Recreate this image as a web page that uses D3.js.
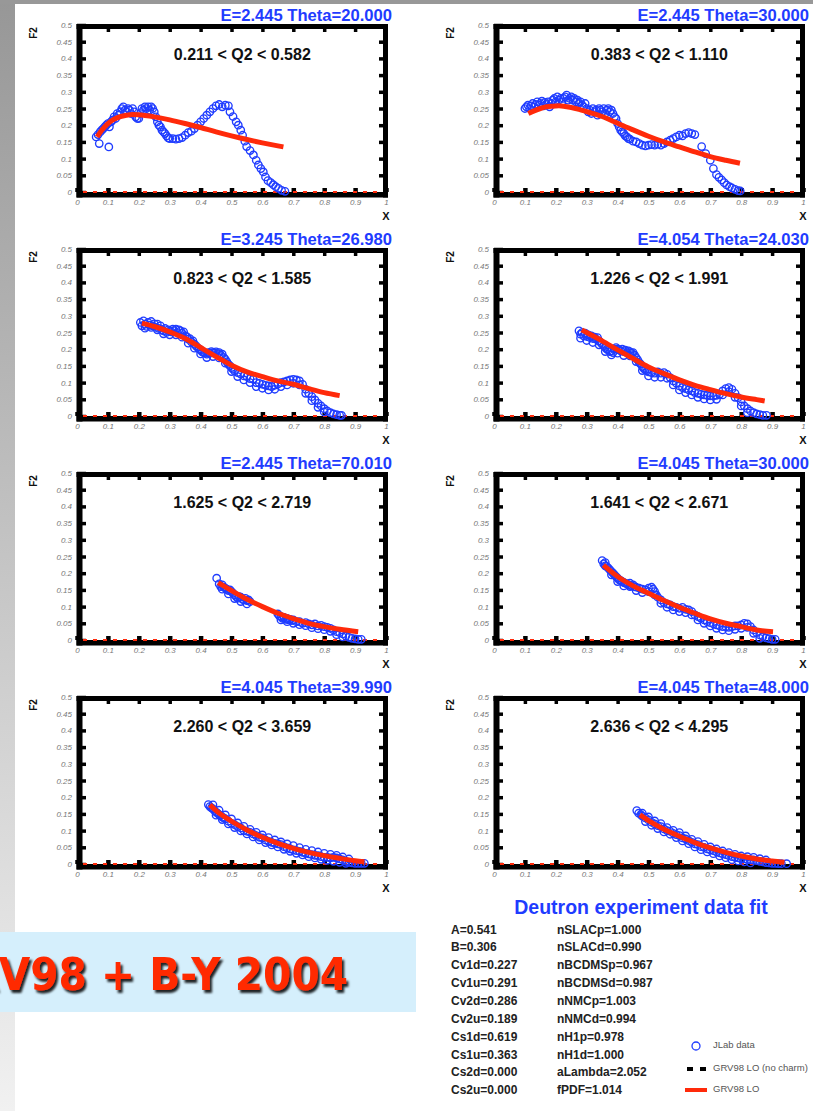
<!DOCTYPE html>
<html><head><meta charset="utf-8">
<script src="https://cdn.jsdelivr.net/npm/d3@7"></script>
<style>body{margin:0;background:#fff}svg{display:block}</style>
</head><body><svg id="c" width="813" height="1111"></svg>
<script>
// ---------- data ----------
const panelTitles = ["E=2.445 Theta=20.000","E=2.445 Theta=30.000","E=3.245 Theta=26.980","E=4.054 Theta=24.030",
  "E=2.445 Theta=70.010","E=4.045 Theta=30.000","E=4.045 Theta=39.990","E=4.045 Theta=48.000"];
const q2Labels = ["0.211 < Q2 < 0.582","0.383 < Q2 < 1.110","0.823 < Q2 < 1.585","1.226 < Q2 < 1.991",
  "1.625 < Q2 < 2.719","1.641 < Q2 < 2.671","2.260 < Q2 < 3.659","2.636 < Q2 < 4.295"];
const xTicks = [0,0.1,0.2,0.3,0.4,0.5,0.6,0.7,0.8,0.9,1];
const yTicks = [0,0.05,0.1,0.15,0.2,0.25,0.3,0.35,0.4,0.45,0.5];

const jlab1 = [[0.062,0.165],[0.068,0.172],[0.072,0.145],[0.075,0.18],[0.08,0.185],[0.085,0.19],[0.09,0.195],[0.095,0.2],[0.1,0.205],[0.103,0.135],[0.105,0.195],[0.11,0.21],[0.115,0.215],[0.12,0.225],[0.125,0.22],[0.13,0.235],[0.135,0.23],[0.14,0.24],[0.145,0.25],[0.15,0.255],[0.155,0.245],[0.16,0.24],[0.165,0.25],[0.17,0.245],[0.175,0.235],[0.18,0.25],[0.185,0.24],[0.19,0.225],[0.195,0.22],[0.2,0.22],[0.205,0.235],[0.21,0.25],[0.215,0.245],[0.22,0.255],[0.225,0.25],[0.23,0.255],[0.235,0.245],[0.24,0.255],[0.245,0.25],[0.25,0.24],[0.255,0.225],[0.26,0.21],[0.265,0.2],[0.27,0.195],[0.275,0.185],[0.28,0.18],[0.285,0.175],[0.29,0.168],[0.295,0.162],[0.3,0.16],[0.31,0.16],[0.32,0.158],[0.33,0.16],[0.34,0.163],[0.35,0.17],[0.36,0.178],[0.37,0.182],[0.38,0.19],[0.39,0.2],[0.4,0.21],[0.41,0.22],[0.42,0.23],[0.43,0.24],[0.44,0.25],[0.45,0.258],[0.46,0.262],[0.47,0.255],[0.48,0.26],[0.49,0.258],[0.495,0.24],[0.505,0.226],[0.515,0.21],[0.522,0.2],[0.53,0.185],[0.536,0.17],[0.543,0.152],[0.549,0.136],[0.56,0.124],[0.571,0.111],[0.58,0.095],[0.587,0.081],[0.595,0.07],[0.603,0.06],[0.61,0.045],[0.618,0.034],[0.627,0.028],[0.635,0.022],[0.643,0.016],[0.652,0.011],[0.662,0.005],[0.673,0.002]];
const fit1 = [[0.065,0.165],[0.08,0.185],[0.1,0.205],[0.12,0.218],[0.14,0.226],[0.16,0.23],[0.18,0.232],[0.2,0.231],[0.22,0.229],[0.25,0.225],[0.3,0.216],[0.35,0.205],[0.4,0.193],[0.45,0.18],[0.5,0.168],[0.55,0.157],[0.6,0.147],[0.65,0.138],[0.668,0.135]];

const jlab2 = [[0.1,0.25],[0.105,0.255],[0.11,0.26],[0.115,0.25],[0.12,0.258],[0.125,0.265],[0.13,0.255],[0.135,0.262],[0.14,0.27],[0.145,0.26],[0.15,0.265],[0.155,0.272],[0.16,0.258],[0.165,0.268],[0.17,0.262],[0.175,0.27],[0.18,0.255],[0.185,0.265],[0.19,0.275],[0.195,0.28],[0.2,0.27],[0.205,0.285],[0.21,0.275],[0.215,0.28],[0.22,0.27],[0.225,0.28],[0.23,0.285],[0.235,0.29],[0.24,0.275],[0.245,0.28],[0.25,0.285],[0.255,0.275],[0.26,0.28],[0.265,0.27],[0.27,0.275],[0.275,0.265],[0.28,0.27],[0.285,0.26],[0.29,0.255],[0.295,0.265],[0.3,0.25],[0.305,0.24],[0.31,0.245],[0.315,0.235],[0.32,0.25],[0.325,0.24],[0.33,0.245],[0.335,0.23],[0.34,0.25],[0.345,0.245],[0.35,0.24],[0.355,0.25],[0.36,0.235],[0.365,0.245],[0.37,0.25],[0.375,0.24],[0.38,0.245],[0.385,0.235],[0.39,0.225],[0.395,0.22],[0.4,0.205],[0.405,0.195],[0.41,0.185],[0.415,0.18],[0.42,0.175],[0.425,0.168],[0.43,0.165],[0.435,0.16],[0.44,0.158],[0.45,0.152],[0.46,0.15],[0.47,0.145],[0.48,0.14],[0.49,0.138],[0.5,0.14],[0.51,0.142],[0.52,0.14],[0.53,0.143],[0.54,0.14],[0.55,0.145],[0.56,0.15],[0.57,0.155],[0.58,0.16],[0.59,0.165],[0.6,0.17],[0.61,0.168],[0.62,0.175],[0.63,0.178],[0.64,0.175],[0.65,0.172],[0.672,0.136],[0.685,0.115],[0.7,0.095],[0.71,0.07],[0.72,0.052],[0.728,0.044],[0.737,0.036],[0.745,0.028],[0.753,0.021],[0.762,0.016],[0.77,0.012],[0.78,0.008],[0.79,0.004],[0.797,0.003]];
const fit2 = [[0.111,0.235],[0.13,0.243],[0.15,0.25],[0.17,0.255],[0.19,0.257],[0.21,0.258],[0.23,0.256],[0.25,0.253],[0.28,0.246],[0.31,0.238],[0.35,0.226],[0.4,0.206],[0.45,0.186],[0.5,0.167],[0.55,0.15],[0.6,0.135],[0.65,0.12],[0.7,0.106],[0.75,0.095],[0.796,0.086]];

const jlab3 = [[0.205,0.28],[0.21,0.27],[0.215,0.285],[0.22,0.275],[0.225,0.268],[0.23,0.28],[0.235,0.272],[0.24,0.283],[0.245,0.27],[0.25,0.276],[0.255,0.265],[0.26,0.275],[0.265,0.262],[0.27,0.27],[0.275,0.258],[0.28,0.255],[0.285,0.262],[0.29,0.25],[0.295,0.258],[0.3,0.255],[0.305,0.252],[0.31,0.26],[0.315,0.255],[0.32,0.26],[0.325,0.25],[0.33,0.258],[0.335,0.255],[0.34,0.248],[0.345,0.252],[0.35,0.24],[0.355,0.238],[0.36,0.23],[0.365,0.232],[0.37,0.222],[0.375,0.225],[0.38,0.215],[0.385,0.21],[0.39,0.205],[0.395,0.2],[0.4,0.198],[0.405,0.192],[0.41,0.19],[0.415,0.188],[0.42,0.185],[0.425,0.19],[0.43,0.188],[0.435,0.193],[0.44,0.19],[0.445,0.188],[0.45,0.192],[0.455,0.186],[0.46,0.19],[0.465,0.182],[0.47,0.185],[0.475,0.175],[0.48,0.17],[0.485,0.162],[0.49,0.155],[0.495,0.15],[0.5,0.145],[0.505,0.14],[0.51,0.135],[0.52,0.13],[0.53,0.125],[0.54,0.12],[0.55,0.118],[0.56,0.112],[0.57,0.11],[0.58,0.1],[0.59,0.098],[0.6,0.095],[0.61,0.092],[0.62,0.09],[0.63,0.088],[0.64,0.092],[0.65,0.095],[0.66,0.1],[0.67,0.102],[0.68,0.105],[0.69,0.108],[0.7,0.11],[0.71,0.108],[0.72,0.105],[0.73,0.095],[0.74,0.08],[0.75,0.068],[0.76,0.058],[0.77,0.048],[0.78,0.038],[0.79,0.03],[0.8,0.022],[0.81,0.015],[0.82,0.01],[0.83,0.006],[0.84,0.004],[0.85,0.002],[0.856,0.002]];
const jlab3Edge = [[0.22,0.263],[0.24,0.265],[0.26,0.258],[0.28,0.246],[0.3,0.243],[0.32,0.243],[0.34,0.236],[0.36,0.218],[0.38,0.203],[0.4,0.186],[0.42,0.175],[0.44,0.178],[0.46,0.174],[0.48,0.158],[0.5,0.133],[0.52,0.118],[0.54,0.108],[0.56,0.1],[0.58,0.088],[0.6,0.083],[0.62,0.078],[0.64,0.08],[0.66,0.088],[0.68,0.093],[0.7,0.098],[0.72,0.093],[0.74,0.068],[0.76,0.046],[0.78,0.026],[0.8,0.012]];
const fit3 = [[0.21,0.278],[0.25,0.268],[0.3,0.252],[0.35,0.232],[0.4,0.205],[0.45,0.178],[0.5,0.152],[0.55,0.132],[0.6,0.118],[0.65,0.105],[0.7,0.095],[0.75,0.082],[0.8,0.07],[0.85,0.061]];

const jlab4 = [[0.275,0.255],[0.28,0.245],[0.285,0.25],[0.29,0.24],[0.295,0.248],[0.3,0.238],[0.305,0.243],[0.31,0.235],[0.315,0.24],[0.32,0.232],[0.325,0.236],[0.33,0.23],[0.335,0.235],[0.34,0.225],[0.345,0.22],[0.35,0.215],[0.355,0.21],[0.36,0.205],[0.365,0.2],[0.37,0.197],[0.375,0.193],[0.38,0.195],[0.385,0.19],[0.39,0.2],[0.395,0.205],[0.4,0.2],[0.405,0.198],[0.41,0.195],[0.415,0.2],[0.42,0.193],[0.425,0.197],[0.43,0.19],[0.435,0.195],[0.44,0.192],[0.445,0.188],[0.45,0.19],[0.455,0.182],[0.46,0.175],[0.465,0.168],[0.47,0.16],[0.475,0.155],[0.48,0.148],[0.485,0.142],[0.49,0.138],[0.495,0.135],[0.5,0.132],[0.51,0.13],[0.52,0.128],[0.53,0.132],[0.54,0.128],[0.55,0.13],[0.56,0.125],[0.57,0.115],[0.58,0.105],[0.59,0.098],[0.6,0.09],[0.61,0.085],[0.62,0.082],[0.63,0.078],[0.64,0.075],[0.65,0.07],[0.66,0.068],[0.67,0.065],[0.68,0.063],[0.69,0.062],[0.7,0.06],[0.71,0.06],[0.72,0.062],[0.73,0.065],[0.74,0.075],[0.75,0.082],[0.76,0.085],[0.77,0.08],[0.78,0.068],[0.79,0.055],[0.8,0.042],[0.81,0.03],[0.82,0.022],[0.83,0.015],[0.84,0.01],[0.85,0.006],[0.86,0.004],[0.87,0.002],[0.882,0.002]];
const jlab4Edge = [[0.28,0.233],[0.3,0.226],[0.32,0.22],[0.34,0.213],[0.36,0.193],[0.38,0.183],[0.4,0.188],[0.42,0.181],[0.44,0.18],[0.46,0.163],[0.48,0.136],[0.5,0.12],[0.52,0.116],[0.54,0.116],[0.56,0.113],[0.58,0.093],[0.6,0.078],[0.62,0.07],[0.64,0.063],[0.66,0.056],[0.68,0.051],[0.7,0.048],[0.72,0.05],[0.74,0.063],[0.76,0.073],[0.78,0.056],[0.8,0.03],[0.82,0.01]];
const fit4 = [[0.284,0.258],[0.3,0.25],[0.35,0.225],[0.4,0.198],[0.45,0.172],[0.5,0.147],[0.55,0.127],[0.6,0.108],[0.65,0.092],[0.7,0.079],[0.75,0.067],[0.8,0.057],[0.85,0.049],[0.876,0.045]];

const jlab5 = [[0.452,0.185],[0.46,0.168],[0.465,0.16],[0.47,0.165],[0.475,0.158],[0.48,0.155],[0.485,0.152],[0.49,0.148],[0.495,0.15],[0.5,0.145],[0.505,0.14],[0.51,0.135],[0.515,0.13],[0.52,0.125],[0.525,0.13],[0.53,0.128],[0.535,0.122],[0.54,0.12],[0.545,0.125],[0.55,0.118],[0.555,0.12],[0.56,0.115],[0.65,0.078],[0.655,0.072],[0.66,0.07],[0.665,0.065],[0.67,0.068],[0.675,0.062],[0.68,0.065],[0.685,0.06],[0.69,0.062],[0.695,0.058],[0.7,0.06],[0.71,0.055],[0.72,0.055],[0.73,0.05],[0.74,0.052],[0.75,0.048],[0.76,0.045],[0.77,0.048],[0.78,0.042],[0.79,0.044],[0.8,0.04],[0.81,0.038],[0.82,0.035],[0.83,0.03],[0.84,0.025],[0.85,0.022],[0.86,0.018],[0.87,0.012],[0.88,0.008],[0.89,0.005],[0.9,0.003],[0.91,0.002],[0.92,0.002]];
const jlab5Edge = [[0.47,0.152],[0.49,0.138],[0.51,0.124],[0.53,0.115],[0.55,0.108],[0.66,0.06],[0.68,0.055],[0.7,0.05],[0.72,0.046],[0.74,0.043],[0.76,0.037],[0.78,0.034],[0.8,0.031],[0.82,0.026],[0.84,0.016],[0.86,0.009]];
const fit5 = [[0.457,0.172],[0.5,0.148],[0.55,0.122],[0.6,0.1],[0.65,0.08],[0.7,0.064],[0.75,0.05],[0.8,0.04],[0.85,0.032],[0.91,0.025]];

const jlab6 = [[0.35,0.238],[0.355,0.228],[0.36,0.232],[0.365,0.22],[0.37,0.215],[0.375,0.21],[0.38,0.205],[0.385,0.2],[0.39,0.195],[0.395,0.19],[0.4,0.185],[0.405,0.18],[0.41,0.178],[0.415,0.175],[0.42,0.172],[0.425,0.17],[0.43,0.168],[0.435,0.165],[0.44,0.17],[0.445,0.162],[0.45,0.165],[0.455,0.16],[0.46,0.158],[0.47,0.155],[0.48,0.152],[0.49,0.15],[0.5,0.155],[0.51,0.158],[0.515,0.152],[0.52,0.145],[0.525,0.135],[0.53,0.128],[0.54,0.12],[0.55,0.112],[0.56,0.108],[0.57,0.105],[0.58,0.1],[0.59,0.098],[0.6,0.095],[0.61,0.098],[0.62,0.092],[0.63,0.09],[0.64,0.085],[0.65,0.075],[0.66,0.07],[0.67,0.065],[0.68,0.06],[0.69,0.055],[0.7,0.052],[0.71,0.048],[0.72,0.045],[0.73,0.042],[0.74,0.04],[0.75,0.04],[0.76,0.038],[0.77,0.04],[0.78,0.042],[0.79,0.042],[0.8,0.045],[0.81,0.05],[0.82,0.048],[0.83,0.04],[0.84,0.03],[0.85,0.022],[0.86,0.015],[0.87,0.01],[0.88,0.006],[0.89,0.004],[0.9,0.002],[0.91,0.002]];
const jlab6Edge = [[0.36,0.222],[0.38,0.195],[0.4,0.175],[0.42,0.162],[0.44,0.16],[0.46,0.148],[0.48,0.142],[0.5,0.145],[0.52,0.135],[0.54,0.11],[0.56,0.098],[0.58,0.09],[0.6,0.085],[0.62,0.082],[0.64,0.075],[0.66,0.06],[0.68,0.05],[0.7,0.042],[0.72,0.035],[0.74,0.03],[0.76,0.028],[0.78,0.032],[0.8,0.035],[0.82,0.038],[0.84,0.02],[0.86,0.005]];
const fit6 = [[0.354,0.224],[0.4,0.19],[0.45,0.162],[0.5,0.14],[0.55,0.118],[0.6,0.098],[0.65,0.08],[0.7,0.063],[0.75,0.05],[0.8,0.04],[0.85,0.03],[0.903,0.025]];

const jlab7 = [[0.425,0.178],[0.43,0.172],[0.435,0.168],[0.44,0.165],[0.445,0.16],[0.45,0.155],[0.455,0.152],[0.46,0.148],[0.465,0.145],[0.47,0.14],[0.475,0.138],[0.48,0.135],[0.49,0.128],[0.5,0.122],[0.51,0.118],[0.52,0.112],[0.53,0.108],[0.54,0.1],[0.55,0.098],[0.56,0.095],[0.57,0.09],[0.58,0.085],[0.59,0.08],[0.6,0.078],[0.61,0.072],[0.62,0.068],[0.63,0.065],[0.64,0.062],[0.65,0.06],[0.66,0.058],[0.67,0.052],[0.68,0.048],[0.69,0.045],[0.7,0.042],[0.71,0.04],[0.72,0.038],[0.73,0.035],[0.74,0.032],[0.75,0.03],[0.76,0.028],[0.77,0.026],[0.78,0.025],[0.79,0.022],[0.8,0.02],[0.81,0.02],[0.82,0.018],[0.83,0.02],[0.84,0.018],[0.85,0.015],[0.86,0.012],[0.87,0.008],[0.88,0.005],[0.89,0.003],[0.9,0.002],[0.91,0.002],[0.92,0.002],[0.93,0.002]];
const jlab7Edge = [[0.44,0.177],[0.46,0.161],[0.48,0.147],[0.5,0.135],[0.52,0.123],[0.54,0.113],[0.56,0.104],[0.58,0.095],[0.6,0.087],[0.62,0.079],[0.64,0.072],[0.66,0.066],[0.68,0.06],[0.7,0.055],[0.72,0.049],[0.74,0.044],[0.76,0.04],[0.78,0.036],[0.8,0.032],[0.82,0.029],[0.84,0.026],[0.86,0.021],[0.88,0.015],
  [0.45,0.146],[0.47,0.133],[0.49,0.12],[0.51,0.109],[0.53,0.099],[0.55,0.09],[0.57,0.081],[0.59,0.072],[0.61,0.064],[0.63,0.057],[0.65,0.051],[0.67,0.044],[0.69,0.038],[0.71,0.032],[0.73,0.027],[0.75,0.022],[0.77,0.018],[0.79,0.014],[0.81,0.011],[0.83,0.008],[0.85,0.005],[0.87,0.002]];
const fit7 = [[0.43,0.177],[0.45,0.16],[0.5,0.128],[0.55,0.102],[0.6,0.08],[0.65,0.062],[0.7,0.047],[0.75,0.035],[0.8,0.025],[0.85,0.017],[0.9,0.01],[0.93,0.007]];

const jlab8 = [[0.462,0.16],[0.468,0.152],[0.475,0.148],[0.48,0.143],[0.49,0.138],[0.5,0.132],[0.51,0.125],[0.52,0.12],[0.53,0.115],[0.54,0.112],[0.55,0.105],[0.56,0.1],[0.57,0.098],[0.58,0.092],[0.59,0.088],[0.6,0.085],[0.61,0.078],[0.62,0.075],[0.63,0.07],[0.64,0.065],[0.65,0.06],[0.66,0.058],[0.67,0.052],[0.68,0.05],[0.69,0.045],[0.7,0.042],[0.71,0.04],[0.72,0.036],[0.73,0.033],[0.74,0.03],[0.75,0.028],[0.76,0.025],[0.77,0.022],[0.78,0.02],[0.79,0.018],[0.8,0.015],[0.81,0.015],[0.82,0.013],[0.83,0.012],[0.84,0.012],[0.85,0.01],[0.86,0.008],[0.87,0.006],[0.88,0.004],[0.89,0.003],[0.9,0.002],[0.91,0.002],[0.92,0.001],[0.93,0.001],[0.947,0.001]];
const jlab8Edge = [[0.48,0.152],[0.5,0.141],[0.52,0.129],[0.54,0.121],[0.56,0.109],[0.58,0.101],[0.6,0.094],[0.62,0.084],[0.64,0.074],[0.66,0.067],[0.68,0.059],[0.7,0.051],[0.72,0.045],[0.74,0.039],[0.76,0.034],[0.78,0.029],[0.8,0.024],[0.82,0.022],[0.84,0.02],[0.86,0.016],[0.88,0.012],
  [0.49,0.127],[0.51,0.116],[0.53,0.106],[0.55,0.096],[0.57,0.089],[0.59,0.079],[0.61,0.069],[0.63,0.061],[0.65,0.051],[0.67,0.043],[0.69,0.036],[0.71,0.031],[0.73,0.024],[0.75,0.019],[0.77,0.013],[0.79,0.009],[0.81,0.006],[0.83,0.003]];
const fit8 = [[0.472,0.147],[0.5,0.13],[0.55,0.104],[0.6,0.083],[0.65,0.064],[0.7,0.048],[0.75,0.035],[0.8,0.024],[0.85,0.015],[0.9,0.009],[0.94,0.005]];

const jlabSets = [jlab1,jlab2,jlab3.concat(jlab3Edge),jlab4.concat(jlab4Edge),jlab5.concat(jlab5Edge),jlab6.concat(jlab6Edge),jlab7.concat(jlab7Edge),jlab8.concat(jlab8Edge)];
const fitSets = [fit1,fit2,fit3,fit4,fit5,fit6,fit7,fit8];

const paramsLeft = ["A=0.541","B=0.306","Cv1d=0.227","Cv1u=0.291","Cv2d=0.286","Cv2u=0.189","Cs1d=0.619","Cs1u=0.363","Cs2d=0.000","Cs2u=0.000"];
const paramsRight = ["nSLACp=1.000","nSLACd=0.990","nBCDMSp=0.967","nBCDMSd=0.987","nNMCp=1.003","nNMCd=0.994","nH1p=0.978","nH1d=1.000","aLambda=2.052","fPDF=1.014"];
const legendLabels = ["JLab data","GRV98 LO (no charm)","GRV98 LO"];

// ---------- drawing ----------
const BLUE = "#1f3cff", RED = "#ff2a0a", FONT = "'Liberation Sans', Arial, sans-serif";
const svg = d3.select("#c");
const defs = svg.append("defs");
const lg = defs.append("linearGradient").attr("id","side").attr("x1",0).attr("y1",0).attr("x2",0).attr("y2",1);
lg.append("stop").attr("offset","0%").attr("stop-color","#979797");
lg.append("stop").attr("offset","100%").attr("stop-color","#f1f1f1");
const sh = defs.append("filter").attr("id","shadow").attr("x","-10%").attr("y","-20%").attr("width","130%").attr("height","160%");
sh.append("feDropShadow").attr("dx",2).attr("dy",2.5).attr("stdDeviation",1).attr("flood-color","#000").attr("flood-opacity",0.85);

svg.append("rect").attr("width",813).attr("height",1111).attr("fill","#fff");
svg.append("rect").attr("x",0).attr("y",0).attr("width",15).attr("height",1111).attr("fill","url(#side)");
svg.append("rect").attr("x",0).attr("y",0).attr("width",813).attr("height",4).attr("fill","#989898");

panelTitles.forEach((title,i)=>{
  const col = i%2, row = Math.floor(i/2);
  const ox = col*417, oy = row*224;
  const x = d3.scaleLinear().domain([0,1]).range([77+ox,386+ox]);
  const y = d3.scaleLinear().domain([0,0.5]).range([192+oy,25+oy]);
  const g = svg.append("g");

  // frame
  const fx0 = x(0)-0.5, fx1 = x(1)+2, fy0 = y(0.5)-1, fy1 = y(0)+5.5;
  g.append("rect").attr("x",fx0).attr("y",fy0).attr("width",6).attr("height",fy1-fy0).attr("fill","#000");
  g.append("rect").attr("x",x(1)-3).attr("y",fy0).attr("width",5).attr("height",fy1-fy0).attr("fill","#000");
  g.append("rect").attr("x",fx0).attr("y",fy0).attr("width",fx1-fx0).attr("height",5).attr("fill","#000");
  g.append("rect").attr("x",fx0).attr("y",y(0)).attr("width",fx1-fx0).attr("height",5.5).attr("fill","#000");

  const fmt = d=>String(+d.toFixed(2));
  const styleAx = (sel,w)=>{ sel.select(".domain").remove(); sel.selectAll(".tick line").attr("stroke","#000").attr("stroke-width",w);
    sel.selectAll(".tick text").attr("fill","#777").attr("font-style","italic").attr("font-size",8).attr("font-family",FONT); };
  g.append("g").attr("transform",`translate(0,${y(0)})`)
    .call(d3.axisBottom(x).tickValues(xTicks).tickSizeInner(-4).tickSizeOuter(0).tickPadding(7).tickFormat(fmt))
    .call(s=>styleAx(s,4.5));
  g.append("g").attr("transform",`translate(${x(0)},0)`)
    .call(d3.axisLeft(y).tickValues(yTicks).tickSizeInner(-9).tickSizeOuter(0).tickPadding(5).tickFormat(fmt))
    .call(s=>styleAx(s,3.5));
  g.append("g").attr("transform",`translate(0,${y(0.5)})`)
    .call(d3.axisTop(x).tickValues(xTicks.slice(1,-1)).tickSizeInner(-7).tickSizeOuter(0).tickFormat(""))
    .call(s=>styleAx(s,3.5));
  g.append("g").attr("transform",`translate(${x(1)},0)`)
    .call(d3.axisRight(y).tickValues(yTicks.slice(1,-1)).tickSizeInner(-7).tickSizeOuter(0).tickFormat(""))
    .call(s=>styleAx(s,3.5));

  // zero line (dashed)
  g.append("line").attr("x1",x(0)+6).attr("x2",x(1)-3).attr("y1",y(0)).attr("y2",y(0))
    .attr("stroke",RED).attr("stroke-width",1.8).attr("stroke-dasharray","4,6");

  // data
  g.append("g").selectAll("circle").data(jlabSets[i]).join("circle")
    .attr("cx",d=>x(d[0])).attr("cy",d=>y(d[1])).attr("r",3.7)
    .attr("fill","none").attr("stroke",BLUE).attr("stroke-width",1.35);
  g.append("path").datum(fitSets[i])
    .attr("d",d3.line().x(d=>x(d[0])).y(d=>y(d[1])).curve(d3.curveMonotoneX))
    .attr("fill","none").attr("stroke",RED).attr("stroke-width",5);

  // labels
  g.append("text").attr("x",x(1)+6).attr("y",oy+20.5).attr("text-anchor","end")
    .attr("font-family",FONT).attr("font-weight","bold").attr("font-size",16.6).attr("fill",BLUE).text(title);
  g.append("text").attr("x",x(0.535)).attr("y",oy+59.5).attr("text-anchor","middle")
    .attr("font-family",FONT).attr("font-weight","bold").attr("font-size",16).attr("fill","#111").text(q2Labels[i]);
  g.append("text").attr("transform",`translate(${37+ox},${oy+33}) rotate(-90)`).attr("text-anchor","middle")
    .attr("font-family",FONT).attr("font-weight","bold").attr("font-size",10).attr("fill","#111").text("F2");
  g.append("text").attr("x",x(1)).attr("y",oy+220).attr("text-anchor","middle")
    .attr("font-family",FONT).attr("font-weight","bold").attr("font-size",11).attr("fill","#111").text("X");
});

// banner
svg.append("rect").attr("x",0).attr("y",932).attr("width",416).attr("height",80).attr("fill","#d5effc");
svg.append("text").attr("transform","translate(348,990) scale(1.1,1.18)").attr("text-anchor","end")
  .attr("font-family","'DejaVu Sans', sans-serif").attr("font-weight","bold").attr("font-size",37)
  .attr("fill","#ff2a00").attr("filter","url(#shadow)").text("GRV98 + B-Y 2004");

// fit summary
svg.append("text").attr("x",641).attr("y",913.5).attr("text-anchor","middle")
  .attr("font-family",FONT).attr("font-weight","bold").attr("font-size",19.5).attr("fill",BLUE).text("Deutron experiment data fit");
const pr = d3.scaleLinear().domain([0,9]).range([933.6,1094.3]);
svg.append("g").selectAll("text").data(paramsLeft).join("text")
  .attr("x",451).attr("y",(d,i)=>pr(i)).attr("font-family",FONT).attr("font-weight","bold").attr("font-size",12).attr("fill","#222").text(d=>d);
svg.append("g").selectAll("text").data(paramsRight).join("text")
  .attr("x",557).attr("y",(d,i)=>pr(i)).attr("font-family",FONT).attr("font-weight","bold").attr("font-size",12).attr("fill","#222").text(d=>d);

// legend
const lgY = [1046,1069,1090];
svg.append("circle").attr("cx",696).attr("cy",lgY[0]).attr("r",4).attr("fill","none").attr("stroke",BLUE).attr("stroke-width",1.3);
svg.append("line").attr("x1",687).attr("x2",707).attr("y1",lgY[1]).attr("y2",lgY[1]).attr("stroke","#000").attr("stroke-width",4).attr("stroke-dasharray","6,7");
svg.append("line").attr("x1",685).attr("x2",707).attr("y1",lgY[2]).attr("y2",lgY[2]).attr("stroke",RED).attr("stroke-width",4);
svg.append("g").selectAll("text").data(legendLabels).join("text")
  .attr("x",713).attr("y",(d,i)=>lgY[i]+1.5).attr("font-family",FONT).attr("font-size",9.5).attr("fill","#555").text(d=>d);
</script></body></html>
